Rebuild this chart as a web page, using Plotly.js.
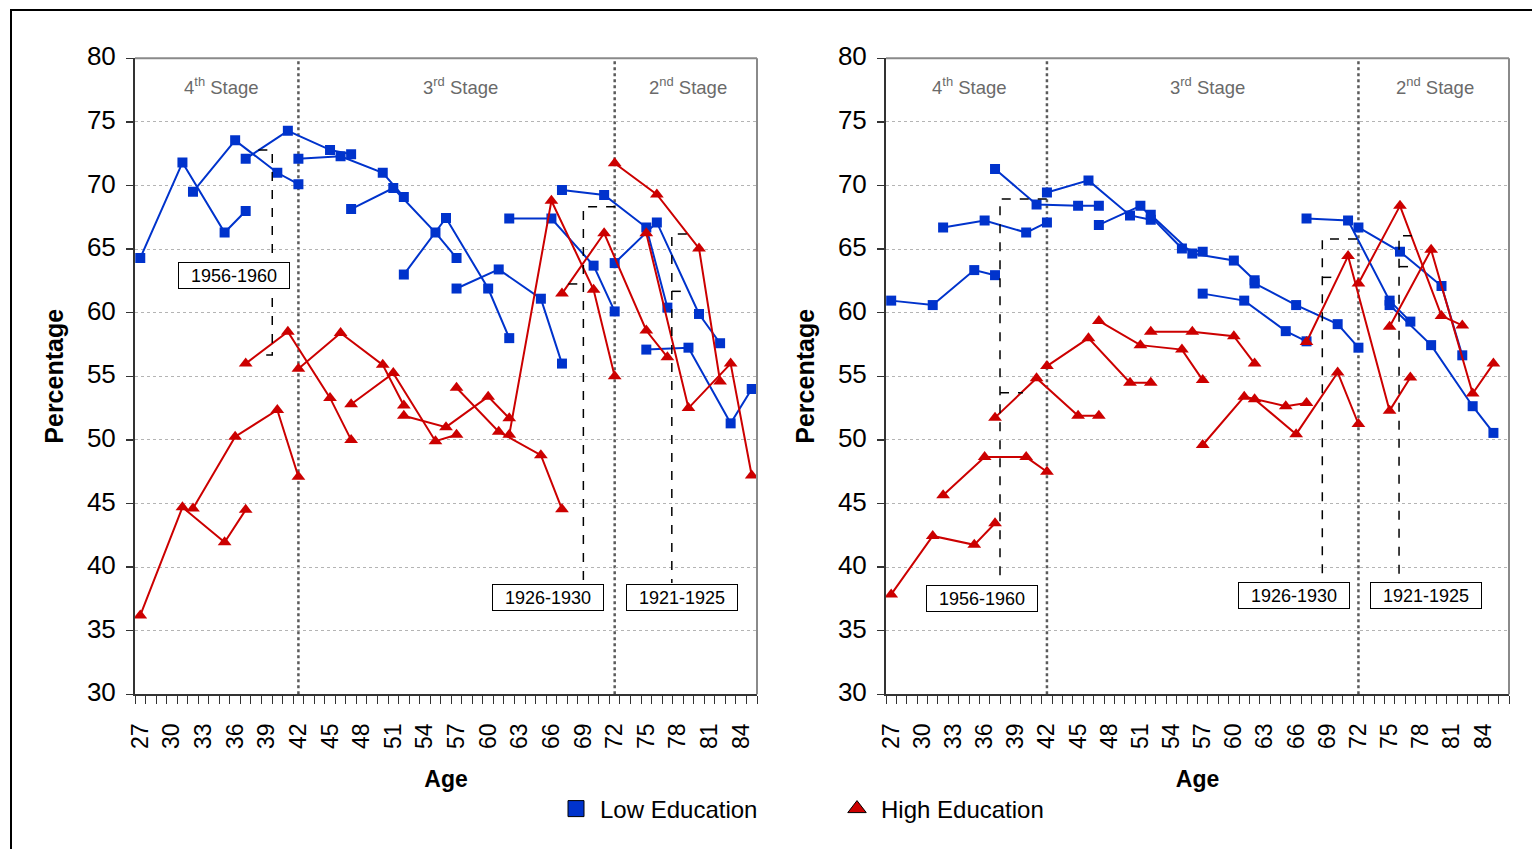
<!DOCTYPE html>
<html><head><meta charset="utf-8">
<script src="https://cdn.plot.ly/plotly-3.0.1.min.js"></script>
<style>
html,body{margin:0;padding:0;background:#fff;}
#wrap{position:relative;width:1532px;height:849px;overflow:hidden;}
#chart{position:absolute;left:0;top:0;width:1532px;height:849px;}
#frame{position:absolute;left:10px;top:9px;width:1700px;height:1000px;border-top:2px solid #000;border-left:2px solid #000;pointer-events:none;}
</style></head><body>
<div id="wrap"><div id="chart"></div><div id="frame"></div></div>
<script>
// ---- data ----
const cohortAges = [
  [27,31,35,37],[32,36,40,42],[37,41,45,47],[42,46,50,52],[47,51,55,57],
  [52,56,60,62],[57,61,65,67],[62,66,70,72],[67,71,75,77],[72,76,80,82],[75,79,83,85]
];
const leftLowEducation = [
  [64.3,71.8,66.3,68.0],[69.5,73.55,71.0,70.1],[72.1,74.3,72.8,72.45],[72.1,72.3,71.0,69.1],
  [68.15,69.8,66.3,64.3],[63.0,67.45,61.9,58.0],[61.9,63.4,61.1,56.0],[67.4,67.4,63.7,60.1],
  [69.65,69.25,66.7,60.4],[63.9,67.1,59.9,57.6],[57.1,57.25,51.3,54.0]
];
const leftHighEducation = [
  [36.2,44.7,41.95,44.5],[44.6,50.25,52.35,47.1],[56.0,58.5,53.3,50.0],[55.6,58.4,55.9,52.7],
  [52.8,55.25,49.9,50.4],[51.9,51.0,53.4,51.7],[54.1,50.65,48.8,44.55],[50.4,68.8,61.8,55.0],
  [61.5,66.25,58.6,56.5],[71.75,69.3,65.05,54.6],[66.25,52.5,56.0,47.2]
];
const rightLowEducation = [
  [60.95,60.6,63.35,62.95],[66.7,67.25,66.3,67.1],[71.3,68.5,68.4,68.4],[69.45,70.4,67.65,67.3],
  [66.9,68.4,65.05,64.8],[67.7,64.65,64.1,62.55],[61.5,60.95,58.55,57.75],[62.3,60.6,59.1,57.25],
  [67.4,67.25,60.95,59.3],[66.7,64.8,62.1,56.65],[60.6,57.45,52.65,50.55]
];
const rightHighEducation = [
  [37.85,42.45,41.75,43.45],[45.65,48.65,48.65,47.5],[51.75,54.85,51.9,51.9],[55.8,58.0,54.5,54.5],
  [59.35,57.45,57.1,54.7],[58.5,58.5,58.15,56.0],[49.6,53.4,52.65,52.9],[53.2,50.45,55.3,51.25],
  [57.7,64.45,52.3,54.9],[62.3,68.4,59.75,59.0],[58.9,64.95,53.65,56.0]
];
const xTickLabels = [27,30,33,36,39,42,45,48,51,54,57,60,63,66,69,72,75,78,81,84];
const yTickLabels = [30,35,40,45,50,55,60,65,70,75,80];
const seriesNames = ['Low Education','High Education'];
const stageLabels = ['4<sup>th</sup> Stage','3<sup>rd</sup> Stage','2<sup>nd</sup> Stage'];
const cohortLabels = ['1956-1960','1926-1930','1921-1925'];

// ---- styles ----
const FONT = 'Liberation Sans, Arial, Helvetica, sans-serif';
const BLUE = '#0033cc', RED = '#cc0000';

const traces = [];
function addGroup(values, color, symbol, size, xa, ya) {
  values.forEach((vals, i) => {
    traces.push({
      type: 'scatter', mode: 'lines+markers', x: cohortAges[i], y: vals,
      xaxis: xa, yaxis: ya, showlegend: false, hoverinfo: 'x+y',
      line: {color: color, width: 2},
      marker: {color: color, symbol: symbol, size: size}
    });
  });
}
addGroup(leftLowEducation, BLUE, 'square', 10, 'x', 'y');
addGroup(leftHighEducation, RED, 'triangle-up', 12, 'x', 'y');
addGroup(rightLowEducation, BLUE, 'square', 10, 'x2', 'y2');
addGroup(rightHighEducation, RED, 'triangle-up', 12, 'x2', 'y2');
// legend entries
traces.push({type:'scatter', mode:'markers', x:[null], y:[null], name: seriesNames[0], showlegend:true,
  marker:{color:BLUE, symbol:'square', size:16, line:{color:'#000', width:1}}});
traces.push({type:'scatter', mode:'markers', x:[null], y:[null], name: seriesNames[1], showlegend:true,
  marker:{color:RED, symbol:'triangle-up', size:16, line:{color:'#000', width:1}}});

function xAxis(domain, range) {
  return {
    domain: domain, range: range, tickmode: 'array', tickvals: xTickLabels, ticktext: xTickLabels.map(String),
    tickangle: -90, tickfont: {size: 23, color: '#000', family: FONT}, ticks: '', ticklabelstandoff: 18,
    minor: {tickmode: 'linear', tick0: 26.5, dtick: 1, ticks: 'outside', ticklen: 8, tickwidth: 1, tickcolor: '#333', showgrid: false},
    showline: true, linecolor: '#333', linewidth: 2, showgrid: false, zeroline: false, fixedrange: true,
    title: {text: '<b>Age</b>', font: {size: 23, color: '#000', family: FONT}, standoff: 23}
  };
}
function yAxis(domain, anchor) {
  return {
    domain: domain, anchor: anchor, range: [30, 80], tickmode: 'array', tickvals: yTickLabels,
    ticks: 'outside', ticklen: 7, tickwidth: 1.5, tickcolor: '#333', ticklabelstandoff: 5, ticklabelshift: -2,
    tickfont: {size: 26, color: '#000', family: FONT},
    showgrid: true, gridcolor: '#b4b4b4', griddash: 'dot', gridwidth: 1,
    showline: true, linecolor: '#333', linewidth: 2, zeroline: false, fixedrange: true,
    title: {text: '<b>Percentage</b>', font: {size: 25, color: '#000', family: FONT}, standoff: 16}
  };
}
const yDom = [(849-694.3)/849, (849-58.3)/849];

const shapes = [];
function panelShapes(xr, yr, brackets) {
  const dashed = {color: '#000', width: 1.5, dash: 'dash'};
  [42, 72].forEach(a => shapes.push({type:'line', xref:xr, yref:yr+' domain', x0:a, x1:a, y0:0, y1:1, layer:'below',
    line:{color:'#5a5a5a', width:2.5, dash:'dot'}}));
  shapes.push({type:'line', xref:xr+' domain', yref:yr+' domain', x0:0, x1:1, y0:1, y1:1, line:{color:'#8a8a8a', width:2}});
  shapes.push({type:'line', xref:xr+' domain', yref:yr+' domain', x0:1, x1:1, y0:0, y1:1, line:{color:'#8a8a8a', width:2}});
  brackets.forEach(p => shapes.push({type:'path', xref:xr, yref:yr, path:p, line:dashed}));
}
panelShapes('x', 'y', [
  'M38.2,72.79 L39.52,72.79 L39.52,56.67 L38.2,56.67',
  'M72.04,68.33 L69.03,68.33 L69.03,38.73', 'M67.6,62.26 L69.03,62.26',
  'M78.84,66.19 L77.42,66.19 L77.42,38.75', 'M77.42,61.68 L78.84,61.68'
]);
panelShapes('x2', 'y2', [
  'M41.98,68.94 L37.48,68.94 L37.48,38.73', 'M37.48,53.71 L39.69,53.71',
  'M71.86,65.79 L68.52,65.79 L68.52,38.99', 'M68.52,62.78 L69.91,62.78',
  'M77.16,66.05 L75.91,66.05 L75.91,38.85', 'M75.91,63.62 L77.16,63.62'
]);

const annotations = [];
function stageAnn(xr, yr, xs) {
  stageLabels.forEach((t, i) => annotations.push({xref:xr, yref:yr, x:xs[i], y:77.8, text:t, showarrow:false,
    font:{size:18.5, color:'#6a6a6a', family:FONT}}));
}
stageAnn('x', 'y', [34.75, 57.4, 78.95]);
stageAnn('x2', 'y2', [34.5, 57.5, 79.4]);
function boxAnn(xr, yr, pos) {
  cohortLabels.forEach((t, i) => annotations.push({xref:xr, yref:yr, x:pos[i][0], y:pos[i][1], text:t, showarrow:false,
    font:{size:18, color:'#000', family:FONT}, bgcolor:'#fff', bordercolor:'#000', borderwidth:1, borderpad:3,
    width:104, height:19}));
}
boxAnn('x', 'y', [[35.86, 62.91], [65.68, 37.63], [78.4, 37.61]]);
boxAnn('x2', 'y2', [[35.75, 37.52], [65.79, 37.78], [78.54, 37.78]]);

const layout = {
  width: 1532, height: 849, margin: {l:0, r:0, t:0, b:0},
  paper_bgcolor: '#fff', plot_bgcolor: '#fff', font: {family: FONT, color: '#000'},
  xaxis: xAxis([135/1532, 757/1532], [26.5, 85.5]),
  yaxis: yAxis(yDom, 'x'),
  xaxis2: Object.assign(xAxis([886/1532, 1509/1532], [26.5, 86.5]), {anchor: 'y2'}),
  yaxis2: yAxis(yDom, 'x2'),
  showlegend: true,
  legend: {orientation: 'h', x: 552/1532, xanchor: 'left', y: 40/849, yanchor: 'middle',
    font: {size: 24, color: '#000', family: FONT}, entrywidth: 228, entrywidthmode: 'pixels', itemwidth: 38,
    bgcolor: 'rgba(0,0,0,0)', itemclick: false, itemdoubleclick: false},
  shapes: shapes, annotations: annotations
};
layout.xaxis.anchor = 'y';
Plotly.newPlot('chart', traces, layout, {displayModeBar: false, staticPlot: true});
</script>
</body></html>
